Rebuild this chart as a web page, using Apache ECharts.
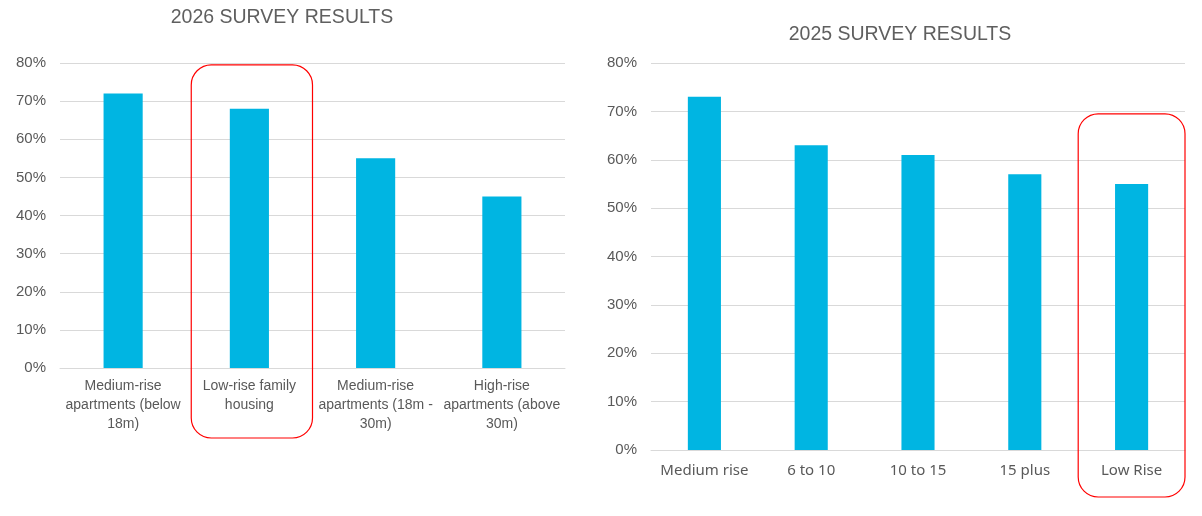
<!DOCTYPE html>
<html><head><meta charset="utf-8">
<script src="https://cdn.jsdelivr.net/npm/echarts@6/dist/echarts.min.js"></script>
<style>html,body{margin:0;padding:0;background:#fff}#c{width:1202px;height:516px}</style>
</head><body><div id="c"></div>
<script>
const title2026 = '2026 SURVEY RESULTS';
const title2025 = '2025 SURVEY RESULTS';
const categories2026 = ['Medium-rise\napartments (below\n18m)', 'Low-rise family\nhousing', 'Medium-rise\napartments (18m -\n30m)', 'High-rise\napartments (above\n30m)'];
const values2026 = [72, 68, 55, 45];
const categories2025 = ['Medium rise', '6 to 10', '10 to 15', '15 plus', 'Low Rise'];
const values2025 = [73, 63, 61, 57, 55];
const highlight2026 = 1; // index of circled category
const highlight2025 = 4;

const chart = echarts.init(document.getElementById('c'));
const grey = '#595959';
const barColor = '#00B5E2';
const axisLabelY = {formatter: '{value}%', color: grey, fontSize: 15, fontFamily: 'Liberation Sans, Arial', margin: 14};
const titleStyle = {color: '#5f5f5f', fontSize: 19.5, fontWeight: 'normal', fontFamily: 'Liberation Sans, Arial'};
chart.setOption({
  animation: false,
  title: [
    {text: title2026, left: 277, top: 3, textAlign: 'center', textStyle: titleStyle},
    {text: title2025, left: 895, top: 20, textAlign: 'center', textStyle: titleStyle}
  ],
  grid: [
    {left: 60, right: 637, top: 63, bottom: 148},
    {left: 651, right: 17, top: 63, bottom: 66}
  ],
  xAxis: [
    {type: 'category', gridIndex: 0, data: categories2026, axisTick: {show: false},
     axisLine: {lineStyle: {color: '#d9d9d9'}},
     axisLabel: {color: grey, fontSize: 14, lineHeight: 19, fontFamily: 'Liberation Sans, Arial', margin: 9, interval: 0}},
    {type: 'category', gridIndex: 1, data: categories2025, axisTick: {show: false},
     axisLine: {lineStyle: {color: '#d9d9d9'}},
     axisLabel: {color: grey, fontSize: 15, fontFamily: 'Noto Sans', margin: 13, interval: 0}}
  ],
  yAxis: [
    {type: 'value', gridIndex: 0, min: 0, max: 80, interval: 10, axisLabel: axisLabelY,
     splitLine: {lineStyle: {color: '#d9d9d9'}}},
    {type: 'value', gridIndex: 1, min: 0, max: 80, interval: 10, axisLabel: axisLabelY,
     splitLine: {lineStyle: {color: '#d9d9d9'}}}
  ],
  series: [
    {type: 'bar', xAxisIndex: 0, yAxisIndex: 0, data: values2026, barWidth: '31%', itemStyle: {color: barColor}},
    {type: 'bar', xAxisIndex: 1, yAxisIndex: 1, data: values2025, barWidth: '31%', itemStyle: {color: barColor}}
  ]
});

function box(gridIdx, idx, topVal, bottomPad, shrinkL) {
  const c = chart.convertToPixel({gridIndex: gridIdx}, [idx, topVal]);
  const c0 = chart.convertToPixel({gridIndex: gridIdx}, [0, 0]);
  const c1 = chart.convertToPixel({gridIndex: gridIdx}, [1, 0]);
  const band = c1[0] - c0[0];
  const x = c[0] - band / 2 + shrinkL;
  const w = band - shrinkL;
  return {type: 'rect', shape: {x: x, y: c[1], width: w, height: c0[1] + bottomPad - c[1], r: 20},
          style: {fill: 'none', stroke: '#ff0000', lineWidth: 1.2}, z: 100};
}
chart.setOption({graphic: [
  box(0, highlight2026, 79.5, 70, 5),
  box(1, highlight2025, 69.5, 47, 0)
]});
</script></body></html>
